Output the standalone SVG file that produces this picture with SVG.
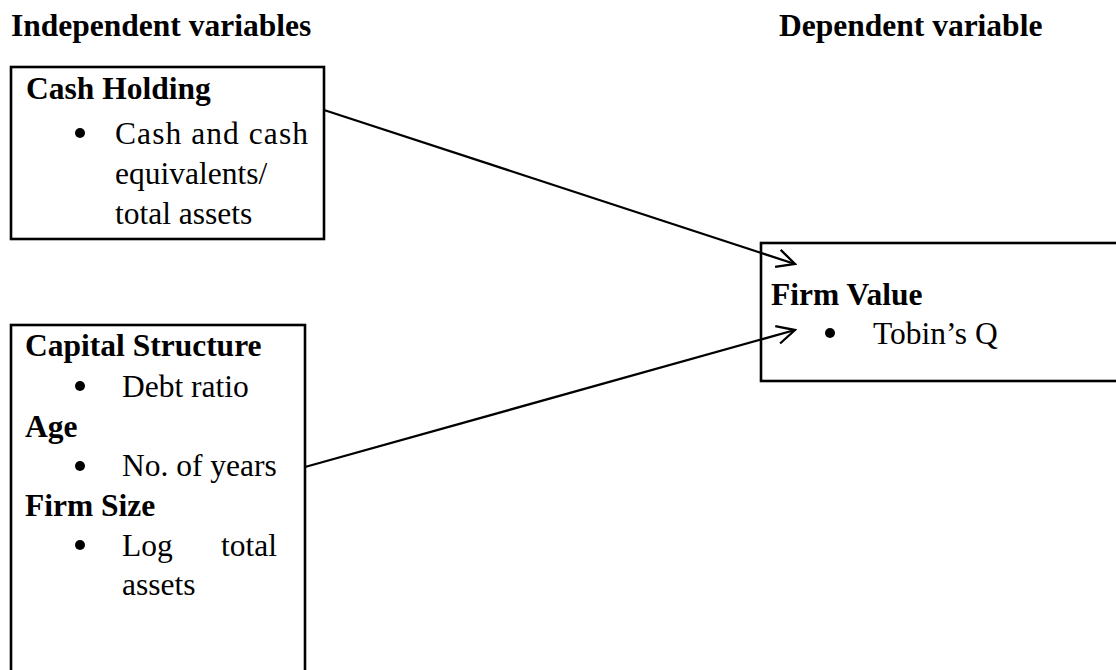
<svg xmlns="http://www.w3.org/2000/svg" width="1116" height="670" viewBox="0 0 1116 670">
<defs>
<style>
.t{font-family:"Liberation Serif","Times New Roman",serif;font-size:31.5px;fill:#000}
.b{font-weight:bold}
.box{fill:#fff;stroke:#000;stroke-width:2.6}
.con{stroke:#000;stroke-width:2.3;fill:none}
</style>
<marker id="ah" viewBox="0 0 22 22" refX="20" refY="11" markerWidth="22" markerHeight="22" markerUnits="userSpaceOnUse" orient="auto">
<path d="M2,2 L20,11 L2,20" fill="none" stroke="#000" stroke-width="2.3"/>
</marker>
</defs>
<rect width="1116" height="670" fill="#fff"/>
<g id="headers">
<text class="t b" x="11" y="36">Independent variables</text>
<text class="t b" x="779" y="36">Dependent variable</text>
</g>
<g id="cash-holding">
<rect class="box" x="11" y="67" width="313" height="172"/>
<text class="t b" x="26" y="99">Cash Holding</text>
<circle cx="80" cy="133" r="5"/>
<text class="t" x="115" y="144" textLength="193" lengthAdjust="spacing">Cash and cash</text>
<text class="t" x="115" y="184">equivalents/</text>
<text class="t" x="115" y="224">total assets</text>
</g>
<g id="other-vars">
<rect class="box" x="11" y="325" width="294" height="360"/>
<text class="t b" x="25" y="356">Capital Structure</text>
<circle cx="80" cy="386" r="5"/>
<text class="t" x="122" y="397">Debt ratio</text>
<text class="t b" x="25" y="437">Age</text>
<circle cx="80" cy="466" r="5"/>
<text class="t" x="122" y="476">No. of years</text>
<text class="t b" x="25" y="516">Firm Size</text>
<circle cx="80" cy="545" r="5"/>
<text class="t" y="556"><tspan x="122">Log</tspan><tspan x="221">total</tspan></text>
<text class="t" x="122" y="595">assets</text>
</g>
<g id="firm-value">
<rect class="box" x="761" y="243" width="370" height="138"/>
<text class="t b" x="771" y="305">Firm Value</text>
<circle cx="830" cy="333" r="5"/>
<text class="t" x="873" y="344">Tobin’s Q</text>
</g>
<g id="connectors">
<line class="con" x1="324" y1="110" x2="795" y2="264" marker-end="url(#ah)"/>
<line class="con" x1="305" y1="467" x2="795" y2="330" marker-end="url(#ah)"/>
</g>
</svg>
